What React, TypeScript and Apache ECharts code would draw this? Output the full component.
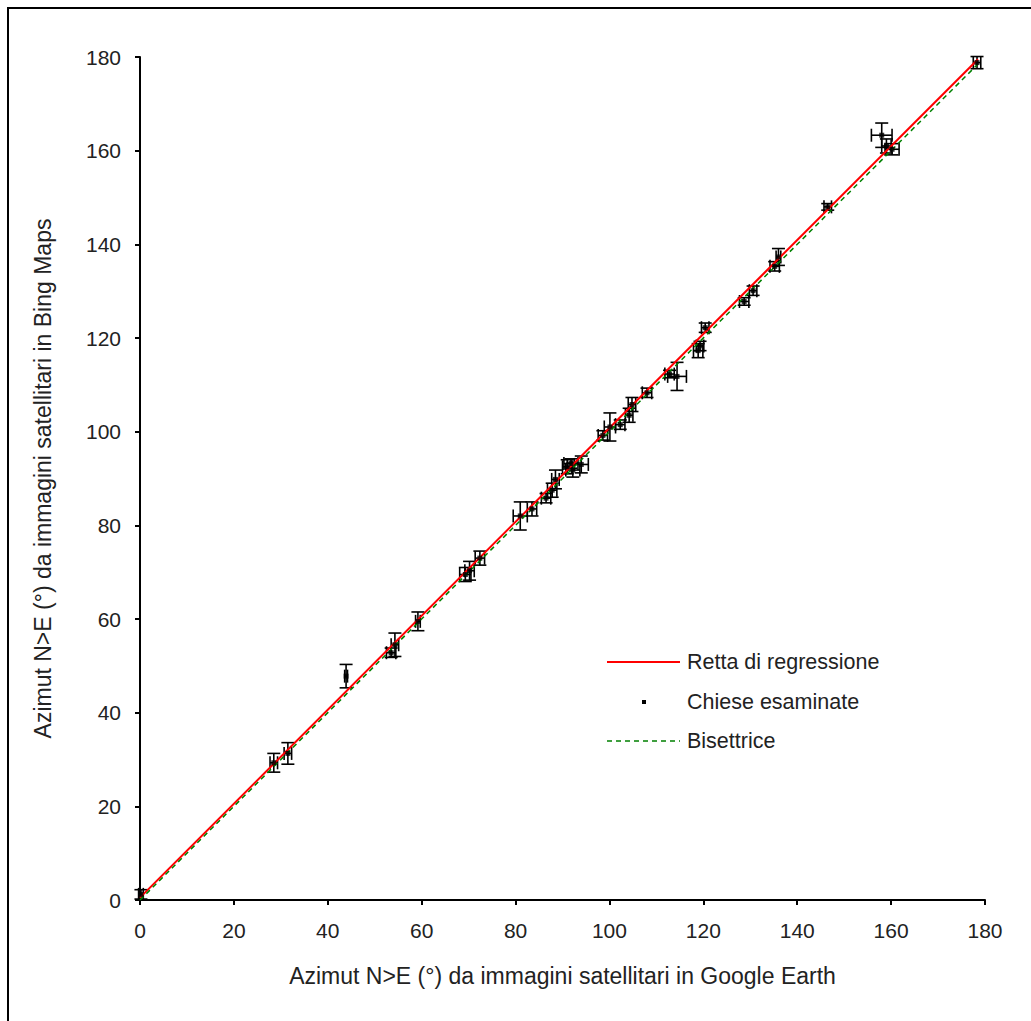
import React, { useEffect, useRef } from "react";
import * as echarts from "echarts";

// Data (degrees)
const googleX = [0.2, 28.5, 31.5, 43.9, 53.5, 54.3, 59.2, 69.3, 70.2, 72.4, 81.0, 83.5, 86.5, 87.8, 88.5, 91.0, 91.8, 92.2, 94.0, 98.6, 100.1, 102.3, 104.2, 104.8, 108.0, 112.8, 114.4, 118.9, 119.3, 120.4, 128.7, 130.6, 135.2, 136.0, 146.5, 158.0, 159.0, 160.2, 178.3];
const bingY = [1.2, 29.3, 31.3, 47.8, 52.8, 54.5, 59.5, 69.5, 70.3, 73.0, 82.0, 83.5, 85.8, 87.5, 89.8, 92.5, 93.2, 91.8, 93.0, 99.2, 101.0, 101.5, 103.5, 105.8, 108.3, 112.3, 111.8, 117.3, 118.3, 122.2, 127.8, 130.1, 135.3, 137.3, 148.0, 163.3, 161.0, 160.3, 178.8];
const errX = [0.5, 0.8, 0.8, 0.3, 1.0, 0.8, 0.5, 1.2, 1.0, 1.0, 1.5, 1.0, 1.0, 1.0, 0.8, 1.0, 1.5, 1.5, 1.5, 1.0, 1.2, 1.0, 0.8, 0.8, 1.0, 1.0, 2.0, 1.0, 0.8, 0.8, 1.0, 0.8, 1.0, 0.5, 0.8, 2.2, 1.0, 1.5, 0.8];
const errY = [1.0, 2.0, 2.3, 2.5, 1.0, 2.5, 2.0, 1.5, 2.0, 1.5, 3.0, 1.5, 1.0, 1.5, 2.0, 1.5, 1.0, 1.5, 1.8, 1.0, 3.0, 1.0, 1.5, 1.5, 1.0, 0.8, 3.0, 1.5, 1.0, 1.0, 0.8, 1.0, 1.0, 1.8, 0.7, 2.6, 1.5, 1.2, 1.3];

const regSlope = 1.003;
const regIntercept = 0.5;
const lineRange = [0, 178.5];

const xTitle = "Azimut N>E (°) da immagini satellitari in Google Earth";
const yTitle = "Azimut N>E (°) da immagini satellitari in Bing Maps";
const legendNames = ["Retta di regressione", "Chiese esaminate", "Bisettrice"];

const FONT = "Liberation Sans, Arial, sans-serif";

export default function App() {
  const ref = useRef<HTMLDivElement>(null);
  useEffect(() => {
    if (!ref.current) return;
    const chart = echarts.init(ref.current, undefined, { renderer: "svg" });
    const points = googleX.map((x, i) => [x, bingY[i]]);
    const errData = googleX.map((x, i) => [x, bingY[i], errX[i], errY[i]]);
    const regLine = lineRange.map((x) => [x, regSlope * x + regIntercept]);
    const bisLine = lineRange.map((x) => [x, x]);

    const axisCommon = {
      min: 0,
      max: 180,
      interval: 20,
      axisLine: { show: true, onZero: false, lineStyle: { color: "#000", width: 2 } },
      axisTick: { show: true, inside: false, length: 5, lineStyle: { color: "#000", width: 2 } },
      splitLine: { show: false },
      axisLabel: { color: "#222", fontSize: 21, fontFamily: FONT },
      nameTextStyle: { color: "#222", fontSize: 23, fontFamily: FONT },
      nameLocation: "middle" as const,
    };

    chart.setOption({
      animation: false,
      backgroundColor: "#fff",
      grid: { left: 140, right: 46, top: 57, bottom: 121, containLabel: false },
      xAxis: {
        type: "value",
        ...axisCommon,
        name: xTitle,
        nameGap: 64,
        axisLabel: { ...axisCommon.axisLabel, margin: 20 },
      },
      yAxis: {
        type: "value",
        ...axisCommon,
        name: yTitle,
        nameGap: 86,
        axisLabel: { ...axisCommon.axisLabel, margin: 19 },
      },
      series: [
        {
          type: "custom",
          name: "errorbars",
          data: errData,
          silent: true,
          z: 3,
          renderItem: (params: any, api: any) => {
            const x = api.value(0);
            const y = api.value(1);
            const ex = api.value(2);
            const ey = api.value(3);
            const c = api.coord([x, y]);
            const l = api.coord([x - ex, y]);
            const r = api.coord([x + ex, y]);
            const t = api.coord([x, y + ey]);
            const b = api.coord([x, y - ey]);
            const cap = 6.5;
            const style = { stroke: "#000", lineWidth: 1.6, fill: "none" };
            return {
              type: "group",
              children: [
                { type: "line", shape: { x1: l[0], y1: c[1], x2: r[0], y2: c[1] }, style },
                { type: "line", shape: { x1: l[0], y1: c[1] - cap, x2: l[0], y2: c[1] + cap }, style },
                { type: "line", shape: { x1: r[0], y1: c[1] - cap, x2: r[0], y2: c[1] + cap }, style },
                { type: "line", shape: { x1: c[0], y1: t[1], x2: c[0], y2: b[1] }, style },
                { type: "line", shape: { x1: c[0] - cap, y1: t[1], x2: c[0] + cap, y2: t[1] }, style },
                { type: "line", shape: { x1: c[0] - cap, y1: b[1], x2: c[0] + cap, y2: b[1] }, style },
              ],
            };
          },
        },
        {
          type: "line",
          name: legendNames[0],
          data: regLine,
          showSymbol: false,
          symbol: "none",
          z: 4,
          lineStyle: { color: "#ff0000", width: 2 },
        },
        {
          type: "scatter",
          name: legendNames[1],
          data: points,
          symbol: "rect",
          symbolSize: 5,
          z: 5,
          itemStyle: { color: "#000" },
        },
        {
          type: "line",
          name: legendNames[2],
          data: bisLine,
          showSymbol: false,
          symbol: "none",
          z: 4,
          lineStyle: { color: "#008000", width: 1.5, type: [5, 4] },
        },
      ],
      graphic: [
        { type: "line", shape: { x1: 7, y1: 8, x2: 1031, y2: 8 }, style: { stroke: "#000", lineWidth: 2 } },
        { type: "line", shape: { x1: 8, y1: 7, x2: 8, y2: 1021 }, style: { stroke: "#000", lineWidth: 2 } },
        { type: "line", shape: { x1: 607, y1: 662, x2: 680, y2: 662 }, style: { stroke: "#ff0000", lineWidth: 2 } },
        { type: "rect", shape: { x: 642, y: 700, width: 4, height: 4 }, style: { fill: "#000" } },
        { type: "line", shape: { x1: 607, y1: 741, x2: 680, y2: 741 }, style: { stroke: "#008000", lineWidth: 1.5, lineDash: [5, 4] } },
        { type: "text", x: 687, y: 662, style: { text: legendNames[0], fill: "#222", font: `21.5px ${FONT}`, verticalAlign: "middle" } },
        { type: "text", x: 687, y: 702, style: { text: legendNames[1], fill: "#222", font: `21.5px ${FONT}`, verticalAlign: "middle" } },
        { type: "text", x: 687, y: 741, style: { text: legendNames[2], fill: "#222", font: `21.5px ${FONT}`, verticalAlign: "middle" } },
      ],
    });
    return () => chart.dispose();
  }, []);
  return (
    <div
      ref={ref}
      style={{ position: "absolute", left: 0, top: 0, width: 1031, height: 1021, background: "#fff" }}
    />
  );
}
